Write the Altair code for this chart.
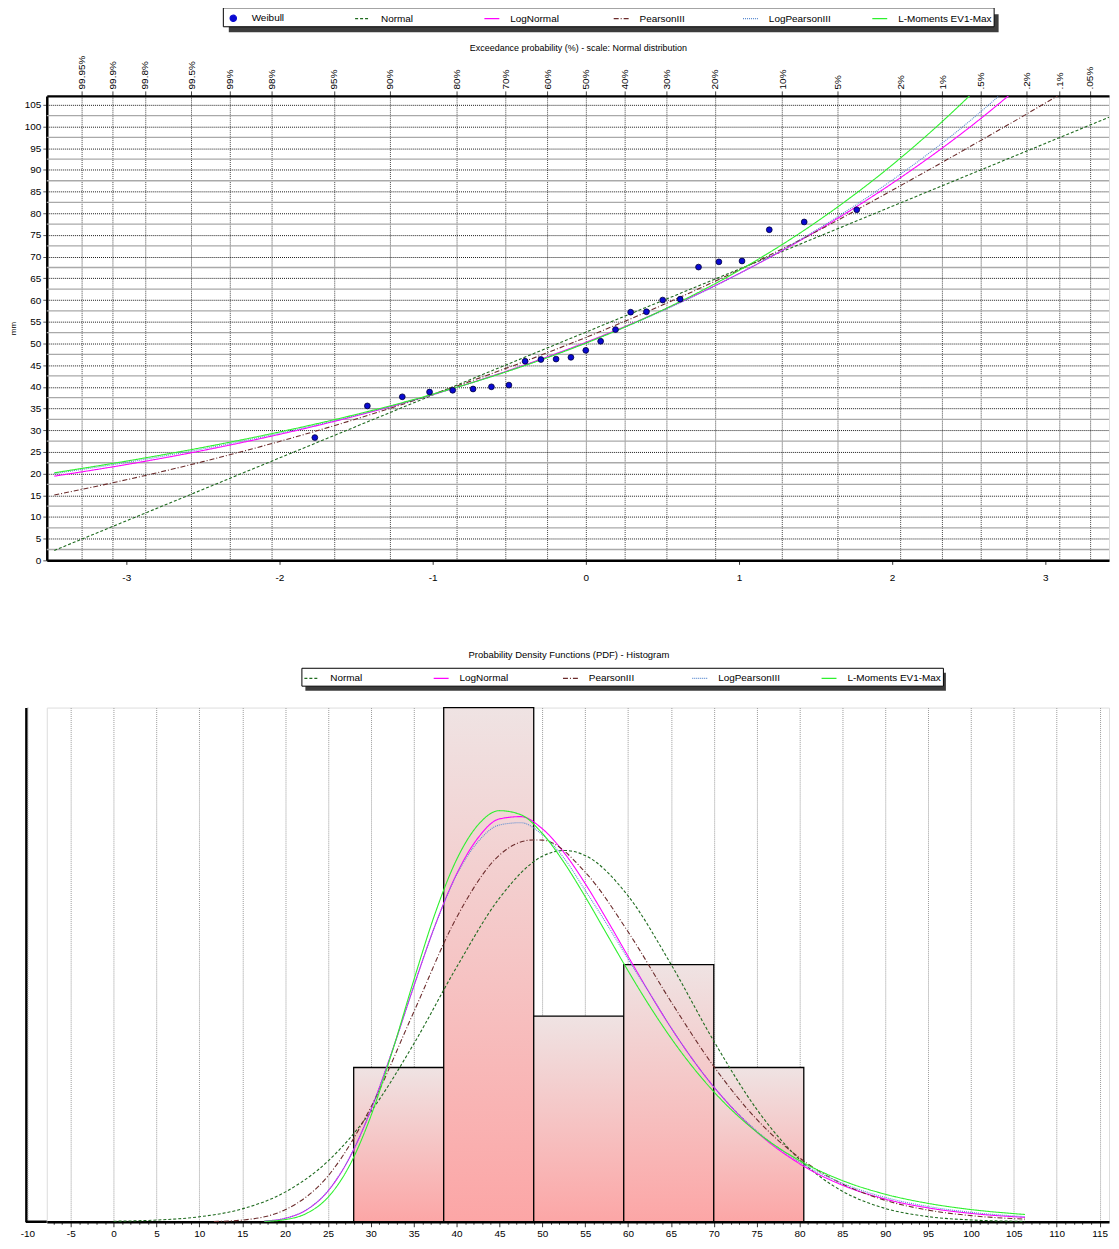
import altair as alt
import pandas as pd

FONT = "Liberation Sans"

# ---------------- top chart (probability plot) ----------------
dist_names = ["Weibull", "Normal", "LogNormal", "PearsonIII", "LogPearsonIII", "L-Moments EV1-Max"]
dist_colors = ["#0a0ad2", "#1f6b1f", "#ff00ff", "#6b2b2b", "#5b8bd0", "#2ef02e"]
dist_dashes = [[1, 0], [3, 2], [1, 0], [5, 2, 1, 2], [1, 1], [1, 0]]

weibull_z = [-1.769, -1.426, -1.198, -1.020, -0.869, -0.736, -0.616, -0.502, -0.396, -0.293,
             -0.194, -0.097, 0.0, 0.097, 0.194, 0.293, 0.396, 0.502, 0.616, 0.736,
             0.869, 1.020, 1.198, 1.426, 1.769]
weibull_mm = [28.3, 35.6, 37.7, 38.8, 39.2, 39.5, 40.0, 40.4, 45.9, 46.3,
              46.4, 46.8, 48.4, 50.5, 53.2, 57.2, 57.3, 60.0, 60.2, 67.6,
              68.8, 69.0, 76.2, 78.0, 80.8]

prob_z = [-3.291, -3.090, -2.878, -2.576, -2.326, -2.054, -1.645, -1.282, -0.842, -0.524, -0.253, 0.0,
          0.253, 0.524, 0.842, 1.282, 1.645, 2.054, 2.326, 2.576, 2.878, 3.090, 3.291]
prob_labels = ["99.95%", "99.9%", "99.8%", "99.5%", "99%", "98%", "95%", "90%", "80%", "70%", "60%", "50%",
               "40%", "30%", "20%", "10%", "5%", "2%", "1%", ".5%", ".2%", ".1%", ".05%"]

z_ticks = [-3, -2, -1, 0, 1, 2, 3]
mm_ticks = [0, 5, 10, 15, 20, 25, 30, 35, 40, 45, 50, 55, 60, 65, 70, 75, 80, 85, 90, 95, 100, 105]
mm_minor = [2.5, 7.5, 12.5, 17.5, 22.5, 27.5, 32.5, 37.5, 42.5, 47.5, 52.5, 57.5, 62.5, 67.5,
            72.5, 77.5, 82.5, 87.5, 92.5, 97.5, 102.5]

normal_z = [-3.47, -3, -2.5, -2, -1.5, -1, -0.5, 0, 0.5, 1, 1.5, 2, 2.5, 3, 3.416]
normal_mm = [2.29, 9.1, 16.35, 23.6, 30.85, 38.1, 45.35, 52.6, 59.85, 67.1, 74.35, 81.6, 88.85, 96.1, 102.13]
lognormal_z = [-3.47, -3, -2.5, -2, -1.5, -1, -0.5, 0, 0.5, 1, 1.5, 2, 2.5, 3]
lognormal_mm = [19.41, 22.08, 25.32, 29.04, 33.31, 38.2, 43.82, 50.25, 57.63, 66.09, 75.78, 86.89, 99.65, 114.3]
pearson_z = [-3.47, -3, -2.5, -2, -1.5, -1, -0.5, 0, 0.5, 1, 1.5, 2, 2.5, 3, 3.2]
pearson_mm = [15.06, 18.57, 22.75, 27.41, 32.57, 38.27, 44.53, 51.38, 58.83, 66.93, 75.68, 85.3, 95.2, 105.4, 109.6]
logpearson_z = [-3.47, -3, -2.5, -2, -1.5, -1, -0.5, 0, 0.5, 1, 1.5, 2, 2.5, 3]
logpearson_mm = [20.0, 22.56, 25.69, 29.3, 33.42, 38.19, 43.71, 50.1, 57.5, 66.07, 76.03, 87.63, 101.07, 116.8]
ev1_z = [-3.47, -3, -2.5, -2, -1.5, -1, -0.5, 0, 0.5, 1, 1.5, 2, 2.5, 2.75]
ev1_mm = [20.18, 22.87, 26.03, 29.59, 33.63, 38.28, 43.69, 50.06, 57.67, 66.81, 77.86, 91.13, 106.89, 115.76]

# ---------------- bottom chart (PDF + histogram) ----------------
hist_start = [28.0, 38.5, 49.0, 59.5, 70.0]
hist_end = [38.5, 49.0, 59.5, 70.0, 80.5]
hist_density = [0.01143, 0.0381, 0.01524, 0.01905, 0.01143]

pdf_normal_x = [0, 5, 10, 15, 20, 25, 30, 35, 40, 45, 50, 52.6, 55, 60, 65, 70, 75, 80, 85, 90, 95, 100, 106.3]
pdf_normal_y = [0.000038, 0.000126, 0.000368, 0.000954, 0.002196, 0.004493, 0.008163, 0.01317, 0.01886,
                0.02398, 0.02708, 0.02751, 0.02714, 0.02415, 0.01909, 0.01339, 0.008342, 0.004615,
                0.002266, 0.000988, 0.000383, 0.000132, 0.000029]
pdf_pearson_x = [11.7, 15, 20, 25, 30, 35, 40, 45, 48.9, 50, 55, 60, 65, 70, 75, 80, 85, 90, 95, 100, 106.3]
pdf_pearson_y = [0.00002, 0.000124, 0.000886, 0.00339, 0.008479, 0.01553, 0.02254, 0.02717, 0.02829,
                 0.02828, 0.02591, 0.02149, 0.01632, 0.01151, 0.007596, 0.004736, 0.002807, 0.001589,
                 0.000864, 0.000453, 0.000192]
pdf_skew_x = [17.6, 20, 22.5, 25, 27.5, 30, 32.5, 35, 37.5, 40, 42.5, 45, 47.5, 50, 52.5, 55, 57.5, 60,
              62.5, 65, 67.5, 70, 75, 80, 85, 90, 95, 100, 106.3]
pdf_lognormal_y = [0.000054, 0.000256, 0.000881, 0.002274, 0.004719, 0.008271, 0.01267, 0.01743, 0.02197,
                   0.02576, 0.02844, 0.02985, 0.03002, 0.02912, 0.02738, 0.02506, 0.02242, 0.01967,
                   0.01695, 0.01439, 0.01206, 0.009993, 0.006659, 0.004304, 0.002713, 0.001681,
                   0.001026, 0.00062, 0.000325]
pdf_logpearson_y = [0.000055, 0.00026, 0.00089, 0.00229, 0.00474, 0.00828, 0.01267, 0.01743, 0.02195,
                    0.0257, 0.02816, 0.0294, 0.02957, 0.02868, 0.02697, 0.02456, 0.02208, 0.01947,
                    0.01695, 0.01439, 0.01206, 0.00999, 0.00673, 0.00443, 0.00285, 0.0018,
                    0.00113, 0.0007, 0.00038]
pdf_ev1_y = [0.0000306, 0.000159, 0.000622, 0.001809, 0.004146, 0.007824, 0.01261, 0.01788, 0.02285,
             0.02683, 0.0294, 0.03046, 0.03016, 0.02878, 0.02665, 0.02409, 0.02134, 0.0186,
             0.016, 0.01362, 0.0115, 0.009635, 0.006656, 0.004532, 0.003052, 0.002042,
             0.001362, 0.000905, 0.000539]
x_ticks_pdf = list(range(-10, 116))
pdf_y_domain = [0, 0.0381]
# x range of the plot rectangle, plus the part of the frame left of it (up to the y axis line)
pdf_x_domain = [-7.796, 116.1]
pdf_frame_left = -10.232
pdf_edge_tick = -10

# ---------------- tables ----------------
top_rows = []
for name, zs, vs in [("Normal", normal_z, normal_mm), ("LogNormal", lognormal_z, lognormal_mm),
                     ("PearsonIII", pearson_z, pearson_mm), ("LogPearsonIII", logpearson_z, logpearson_mm),
                     ("L-Moments EV1-Max", ev1_z, ev1_mm)]:
    for z, v in zip(zs, vs):
        top_rows.append({"dist": name, "z": z, "mm": v})
top_df = pd.DataFrame(top_rows)
weib_df = pd.DataFrame({"z": weibull_z, "mm": weibull_mm})
minor_df = pd.DataFrame({"mm": mm_minor})

pdf_rows = []
for name, xs, ys in [("Normal", pdf_normal_x, pdf_normal_y), ("LogNormal", pdf_skew_x, pdf_lognormal_y),
                     ("PearsonIII", pdf_pearson_x, pdf_pearson_y), ("LogPearsonIII", pdf_skew_x, pdf_logpearson_y),
                     ("L-Moments EV1-Max", pdf_skew_x, pdf_ev1_y)]:
    for x, y in zip(xs, ys):
        pdf_rows.append({"dist": name, "x": x, "d": y})
pdf_df = pd.DataFrame(pdf_rows)
hist_df = pd.DataFrame({"start": hist_start, "end": hist_end, "density": hist_density})

# ---------------- top chart ----------------
zx = alt.Scale(domain=[-3.519, 3.416], nice=False, zero=False)
my = alt.Scale(domain=[0, 107.06], nice=False, zero=False)

round_keys = [round(v * 1000) for v in prob_z]
prob_label_expr = "%s[indexof(%s, round(datum.value * 1000))]" % (
    "[" + ",".join("'%s'" % s for s in prob_labels) + "]",
    "[" + ",".join(str(k) for k in round_keys) + "]")

sym_expr = ("datum.value === 'Weibull' ? "
            "'M-0.42,0A0.42,0.42,0,1,1,0.42,0A0.42,0.42,0,1,1,-0.42,0Z' : 'stroke'")
fill_expr = "datum.value === 'Weibull' ? '#0a0ad2' : 'transparent'"

legend_top = alt.Legend(
    title=None, orient="none", legendX=177, legendY=-89, direction="horizontal", columns=6,
    gridAlign="all", columnPadding=7, symbolType={"expr": sym_expr}, symbolFillColor={"expr": fill_expr},
    symbolSize=225, symbolStrokeWidth=1.2, labelFont=FONT, labelFontSize=10, labelOffset=10,
    labelLimit=300, padding=2, strokeColor="black", fillColor="white", labelColor="black")

minor_rules = alt.Chart(minor_df).mark_rule(color="#a9a9a9", strokeWidth=1.3).encode(
    y=alt.Y("mm:Q", scale=my, axis=None))

curves_top = alt.Chart(top_df).mark_line(interpolate="monotone", clip=True, strokeWidth=1.1).encode(
    x=alt.X("z:Q", scale=zx, axis=alt.Axis(
        orient="bottom", values=z_ticks, labelExpr="'' + datum.value", title=None, grid=False,
        domainColor="black", domainWidth=2.5, tickColor="#333", tickSize=4, labelPadding=8,
        labelFontSize=10, labelFont=FONT, labelColor="black", labelFlush=False)),
    y=alt.Y("mm:Q", scale=my, axis=alt.Axis(
        values=mm_ticks, title="mm", titleFontSize=8, titleFontWeight="normal", titleFont=FONT,
        titlePadding=7, labelFontSize=10, labelFont=FONT, labelColor="black", tickSize=4,
        tickColor="#555", domainColor="black", domainWidth=2.5, grid=True, gridColor="#000",
        gridDash=[1, 1], gridOpacity=0.9, labelFlush=False)),
    color=alt.Color("dist:N", scale=alt.Scale(domain=dist_names, range=dist_colors), legend=legend_top),
    strokeDash=alt.StrokeDash("dist:N", scale=alt.Scale(domain=dist_names, range=dist_dashes), legend=legend_top),
)

points_top = alt.Chart(weib_df).mark_circle(size=34, color="#0a0ad2", stroke="#00003a", strokeWidth=0.8,
                                            opacity=1).encode(
    x=alt.X("z:Q", scale=zx, axis=alt.Axis(
        orient="top", values=prob_z, labelExpr=prob_label_expr, labelAngle=270, labelAlign="left",
        labelBaseline="middle", labelPadding=2, labelFontSize=10, labelFont=FONT, labelColor="black",
        tickSize=5, tickColor="#444", domainColor="black", domainWidth=2.5, grid=True, gridColor="#333",
        gridDash=[1, 1], gridOpacity=0.9, labelFlush=False, labelOverlap=False,
        title="Exceedance probability (%) - scale: Normal distribution", titleFontSize=9,
        titleFontWeight="normal", titleFont=FONT, titlePadding=3)),
    y=alt.Y("mm:Q", scale=my, axis=None),
)

# drop shadow behind the legend box (pixel offsets from the plot origin)
legend_shadow = alt.Chart(pd.DataFrame({"k": [0]})).mark_rect(color="#3c3c3c").encode(
    x=alt.value(183), x2=alt.value(957), y=alt.value(-82), y2=alt.value(-64))

top = alt.layer(minor_rules, legend_shadow, curves_top, points_top).resolve_axis(
    x="independent", y="independent").properties(width=1068, height=467)

# ---------------- bottom chart ----------------
px = alt.Scale(domain=pdf_x_domain, nice=False, zero=False)
py = alt.Scale(domain=pdf_y_domain, nice=False, zero=False)
pdf_names = dist_names[1:]

legend_bot = alt.Legend(
    title=None, orient="none", legendX=256, legendY=-40, direction="horizontal", columns=5,
    gridAlign="all", columnPadding=7, symbolType="stroke", symbolSize=225, symbolStrokeWidth=1.2,
    labelFont=FONT, labelFontSize=10, labelOffset=10, labelLimit=300, padding=2,
    strokeColor="black", fillColor="white", labelColor="black")

bar_fill = alt.Gradient(gradient="linear", x1=0, x2=0, y1=0, y2=1,
                        stops=[alt.GradientStop(color="#efe3e3", offset=0),
                               alt.GradientStop(color="#fca6a6", offset=1)])

mult5 = "datum.value % 5 === 0"
bars = alt.Chart(hist_df).mark_rect(fill=bar_fill, stroke="black", strokeWidth=1.3).encode(
    x=alt.X("start:Q", scale=px, axis=alt.Axis(
        values=x_ticks_pdf, labelExpr="%s ? '' + datum.value : ''" % mult5, title=None,
        labelOverlap=False, labelFlush=False, labelFontSize=10, labelFont=FONT, labelColor="black",
        labelPadding=2, domainColor="black", domainWidth=2.5, tickColor="#333",
        tickSize={"condition": {"test": mult5, "value": 5}, "value": 2.5},
        grid=True, gridColor="#9a9a9a", gridDash=[1, 1],
        gridOpacity={"condition": {"test": mult5, "value": 1}, "value": 0})),
    x2="end:Q",
    y=alt.Y("density:Q", scale=py, axis=alt.Axis(
        labels=False, ticks=False, title=None, grid=False, domainColor="black", domainWidth=2.5,
        offset=21)),
    y2=alt.datum(0),
)

edge_df = pd.DataFrame({"a": [pdf_frame_left], "b": [pdf_x_domain[0]], "v": [pdf_edge_tick],
                        "lbl": [str(pdf_edge_tick)], "lo": [pdf_y_domain[0]], "hi": [pdf_y_domain[1]]})
frame_rule = alt.Chart(edge_df).mark_rule(color="black", strokeWidth=2.5).encode(
    x=alt.X("a:Q", scale=px, axis=None), x2="b:Q", y=alt.Y("lo:Q", scale=py, axis=None))
edge_grid = alt.Chart(edge_df).mark_rule(color="#9a9a9a", strokeDash=[1, 1]).encode(
    x=alt.X("v:Q", scale=px, axis=None), y=alt.Y("lo:Q", scale=py, axis=None), y2="hi:Q")
edge_label = alt.Chart(edge_df).mark_text(font=FONT, fontSize=10, color="black", baseline="top", dy=7).encode(
    x=alt.X("v:Q", scale=px, axis=None), y=alt.Y("lo:Q", scale=py, axis=None), text="lbl:N")

curves_bot = alt.Chart(pdf_df).mark_line(interpolate="monotone", strokeWidth=1.1).encode(
    x=alt.X("x:Q", scale=px, axis=None),
    y=alt.Y("d:Q", scale=py, axis=None),
    color=alt.Color("dist:N", scale=alt.Scale(domain=pdf_names, range=dist_colors[1:]), legend=legend_bot),
    strokeDash=alt.StrokeDash("dist:N", scale=alt.Scale(domain=pdf_names, range=dist_dashes[1:]), legend=legend_bot),
)

legend_shadow_bot = alt.Chart(pd.DataFrame({"k": [0]})).mark_rect(color="#3c3c3c").encode(
    x=alt.value(260), x2=alt.value(904), y=alt.value(-35), y2=alt.value(-17))

bottom = alt.layer(edge_grid, bars, frame_rule, edge_label, legend_shadow_bot, curves_bot).resolve_axis(
    x="independent", y="independent").properties(
    width=1068, height=517,
    title=alt.TitleParams("Probability Density Functions (PDF) - Histogram", fontSize=9.5,
                          fontWeight="normal", font=FONT, color="black", anchor="middle",
                          frame="group", offset=8, dx=-9))

chart = alt.concat(top, bottom, columns=1, spacing=66, align="none").resolve_scale(
    color="independent", strokeDash="independent").properties(
    padding={"top": -5, "bottom": 0, "left": 0, "right": 0}).configure_view(strokeWidth=0).configure(
    background="white")

chart.save("out.html", embed_options={"renderer": "svg", "actions": False})
